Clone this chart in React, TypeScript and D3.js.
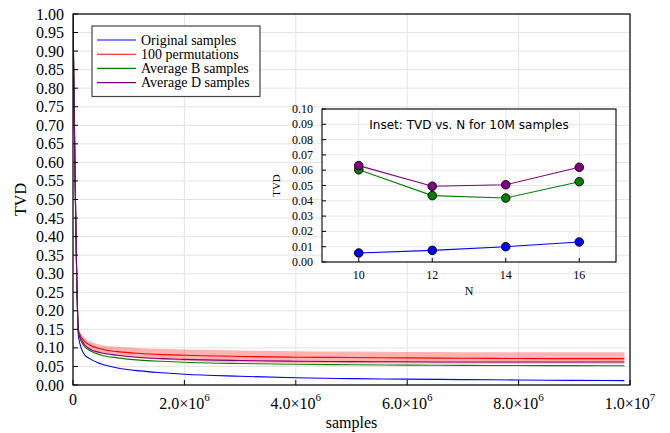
import React, { useEffect, useRef } from 'react';
import * as d3 from 'd3';

// main panel: TVD vs number of samples (N = 16)
const samples = [0, 1e5, 2e5, 3e5, 5e5, 8e5, 1.2e6, 1.6e6, 2e6, 3e6, 4e6, 5e6, 6e6, 7e6, 8e6, 9e6, 9.9e6];
const original = [1.0, 0.128, 0.083, 0.071, 0.057, 0.046, 0.038, 0.033, 0.029, 0.0235, 0.0195, 0.0172, 0.0158, 0.0145, 0.0135, 0.0125, 0.0117];
const permMean = [1.0, 0.146, 0.119, 0.108, 0.097, 0.09, 0.085, 0.082, 0.08, 0.077, 0.075, 0.074, 0.073, 0.072, 0.0715, 0.071, 0.071];
const permUpper = [1.0, 0.153, 0.128, 0.118, 0.108, 0.103, 0.099, 0.097, 0.096, 0.093, 0.091, 0.09, 0.089, 0.0885, 0.088, 0.088, 0.088];
const permLower = [1.0, 0.138, 0.108, 0.095, 0.085, 0.078, 0.072, 0.068, 0.065, 0.061, 0.059, 0.058, 0.0575, 0.057, 0.057, 0.057, 0.057];
const avgB = [1.0, 0.137, 0.105, 0.093, 0.081, 0.073, 0.067, 0.064, 0.0615, 0.058, 0.056, 0.0545, 0.0535, 0.053, 0.0525, 0.0522, 0.052];
const avgD = [1.0, 0.141, 0.11, 0.097, 0.087, 0.08, 0.074, 0.071, 0.069, 0.066, 0.064, 0.063, 0.0625, 0.062, 0.062, 0.062, 0.062];

const xTicks = [0, 2e6, 4e6, 6e6, 8e6, 1e7];
const xTickMantissa = ['0', '2.0', '4.0', '6.0', '8.0', '1.0'];
const xTickExponent = ['', '6', '6', '6', '6', '7'];
const yTicks = d3.range(0, 21).map((i) => i * 0.05);

const legendLabels = ['Original samples', '100 permutations', 'Average B samples', 'Average D samples'];
const legendColors = ['#0000ff', '#ff0000', '#008000', '#800080'];

// inset: TVD vs N at 10M samples
const insetN = [10, 12, 14, 16];
const insetOriginal = [0.0059, 0.0076, 0.01, 0.0131];
const insetAvgB = [0.0603, 0.0434, 0.0418, 0.0525];
const insetAvgD = [0.063, 0.0495, 0.0505, 0.0619];
const insetXTicks = [10, 12, 14, 16];
const insetYTicks = d3.range(0, 11).map((i) => i * 0.01);

const serif = '"Liberation Serif", "Times New Roman", serif';

const App = () => {
  const svgRef = useRef<SVGSVGElement>(null);

  useEffect(() => {
    const svg = d3.select(svgRef.current);
    svg.selectAll('*').remove();

    const left = 73, right = 630, top = 14, bottom = 385;
    const x = d3.scaleLinear().domain([0, 1e7]).range([left, right]);
    const y = d3.scaleLinear().domain([0, 1]).range([bottom, top]);

    svg.append('rect').attr('width', 670).attr('height', 433).attr('fill', 'white');

    // grid
    const grid = svg.append('g').attr('stroke', '#e4e4e4').attr('stroke-width', 1);
    yTicks.forEach((t) => {
      grid.append('line').attr('x1', left).attr('x2', right).attr('y1', y(t)).attr('y2', y(t));
    });
    xTicks.forEach((t) => {
      grid.append('line').attr('x1', x(t)).attr('x2', x(t)).attr('y1', top).attr('y2', bottom);
    });

    svg.append('clipPath').attr('id', 'main-clip')
      .append('rect').attr('x', left).attr('y', top).attr('width', right - left).attr('height', bottom - top);
    const plot = svg.append('g').attr('clip-path', 'url(#main-clip)');

    const band = d3.area<number>()
      .x((d, i) => x(samples[i]))
      .y0((d, i) => y(permLower[i]))
      .y1((d) => y(d))
      .curve(d3.curveMonotoneX);
    plot.append('path').datum(permUpper).attr('d', band)
      .attr('fill', '#ff0000').attr('fill-opacity', 0.3);

    const line = d3.line<number>()
      .x((d, i) => x(samples[i]))
      .y((d) => y(d))
      .curve(d3.curveMonotoneX);
    [original, permMean, avgB, avgD].forEach((series, k) => {
      plot.append('path').datum(series).attr('d', line)
        .attr('fill', 'none').attr('stroke', legendColors[k]).attr('stroke-width', 1.1);
    });

    // frame and ticks
    svg.append('rect').attr('x', left).attr('y', top).attr('width', right - left).attr('height', bottom - top)
      .attr('fill', 'none').attr('stroke', 'black').attr('stroke-width', 1.2);
    yTicks.forEach((t) => {
      svg.append('line').attr('x1', left).attr('x2', left + 5).attr('y1', y(t)).attr('y2', y(t))
        .attr('stroke', 'black');
      svg.append('text').attr('x', 64).attr('y', y(t) + 5.5).attr('text-anchor', 'end')
        .attr('font-family', serif).attr('font-size', 16).text(t.toFixed(2));
    });
    xTicks.forEach((t, i) => {
      svg.append('line').attr('x1', x(t)).attr('x2', x(t)).attr('y1', bottom).attr('y2', bottom - 5)
        .attr('stroke', 'black');
      const label = svg.append('text').attr('x', x(t)).attr('text-anchor', 'middle')
        .attr('font-family', serif).attr('font-size', 16);
      if (xTickExponent[i] === '') {
        label.attr('y', 405).text(xTickMantissa[i]);
      } else {
        label.attr('y', 409);
        label.append('tspan').text(`${xTickMantissa[i]}\u00d710`);
        label.append('tspan').attr('font-size', 11).attr('dy', -8).text(xTickExponent[i]);
      }
    });

    svg.append('text').attr('x', (left + right) / 2).attr('y', 428).attr('text-anchor', 'middle')
      .attr('font-family', serif).attr('font-size', 16).text('samples');
    svg.append('text').attr('transform', `translate(26,${(top + bottom) / 2}) rotate(-90)`)
      .attr('text-anchor', 'middle').attr('font-family', serif).attr('font-size', 16).text('TVD');

    // legend
    const lg = svg.append('g');
    lg.append('rect').attr('x', 92).attr('y', 26).attr('width', 168).attr('height', 70.5)
      .attr('fill', 'white').attr('stroke', '#444').attr('stroke-width', 1.2);
    legendLabels.forEach((name, i) => {
      const ly = 40 + i * 14.2;
      lg.append('line').attr('x1', 97).attr('x2', 136).attr('y1', ly).attr('y2', ly)
        .attr('stroke', legendColors[i]).attr('stroke-width', 1.1);
      lg.append('text').attr('x', 141).attr('y', ly + 4.5).attr('font-family', serif)
        .attr('font-size', 14).text(name);
    });

    // inset
    const il = 322, ir = 616, it = 109, ib = 262;
    const ix = d3.scaleLinear().domain([9, 17]).range([il, ir]);
    const iy = d3.scaleLinear().domain([0, 0.1]).range([ib, it]);
    svg.append('rect').attr('x', il).attr('y', it).attr('width', ir - il).attr('height', ib - it).attr('fill', 'white');
    const igrid = svg.append('g').attr('stroke', '#e8e8e8').attr('stroke-width', 1);
    insetYTicks.forEach((t) => {
      igrid.append('line').attr('x1', il).attr('x2', ir).attr('y1', iy(t)).attr('y2', iy(t));
    });
    insetXTicks.forEach((t) => {
      igrid.append('line').attr('x1', ix(t)).attr('x2', ix(t)).attr('y1', it).attr('y2', ib);
    });

    svg.append('text').attr('x', (il + ir) / 2).attr('y', 129).attr('text-anchor', 'middle')
      .attr('font-family', '"DejaVu Sans", sans-serif').attr('font-size', 12)
      .text('Inset: TVD vs. N for 10M samples');

    const iline = d3.line<number>().x((d, i) => ix(insetN[i])).y((d) => iy(d));
    [
      { v: insetOriginal, c: legendColors[0] },
      { v: insetAvgB, c: legendColors[2] },
      { v: insetAvgD, c: legendColors[3] },
    ].forEach(({ v, c }) => {
      svg.append('path').datum(v).attr('d', iline).attr('fill', 'none').attr('stroke', c).attr('stroke-width', 1.1);
      svg.selectAll(null).data(v).join('circle')
        .attr('cx', (d, i) => ix(insetN[i])).attr('cy', (d) => iy(d)).attr('r', 4.3)
        .attr('fill', c).attr('stroke', 'black').attr('stroke-width', 0.9);
    });

    svg.append('rect').attr('x', il).attr('y', it).attr('width', ir - il).attr('height', ib - it)
      .attr('fill', 'none').attr('stroke', 'black').attr('stroke-width', 1.1);
    insetYTicks.forEach((t) => {
      svg.append('line').attr('x1', il).attr('x2', il + 4).attr('y1', iy(t)).attr('y2', iy(t)).attr('stroke', 'black');
      svg.append('text').attr('x', 313).attr('y', iy(t) + 4).attr('text-anchor', 'end')
        .attr('font-family', serif).attr('font-size', 12).text(t.toFixed(2));
    });
    insetXTicks.forEach((t) => {
      svg.append('line').attr('x1', ix(t)).attr('x2', ix(t)).attr('y1', ib).attr('y2', ib - 4).attr('stroke', 'black');
      svg.append('text').attr('x', ix(t)).attr('y', 278.5).attr('text-anchor', 'middle')
        .attr('font-family', serif).attr('font-size', 12).text(t);
    });
    svg.append('text').attr('x', (il + ir) / 2).attr('y', 295).attr('text-anchor', 'middle')
      .attr('font-family', serif).attr('font-size', 12).text('N');
    svg.append('text').attr('transform', `translate(280,${(it + ib) / 2}) rotate(-90)`)
      .attr('text-anchor', 'middle').attr('font-family', serif).attr('font-size', 11).text('TVD');
  }, []);

  return (
    <svg ref={svgRef} width={670} height={433}
      style={{ position: 'absolute', left: 0, top: 0, display: 'block' }} />
  );
};

export default App;
